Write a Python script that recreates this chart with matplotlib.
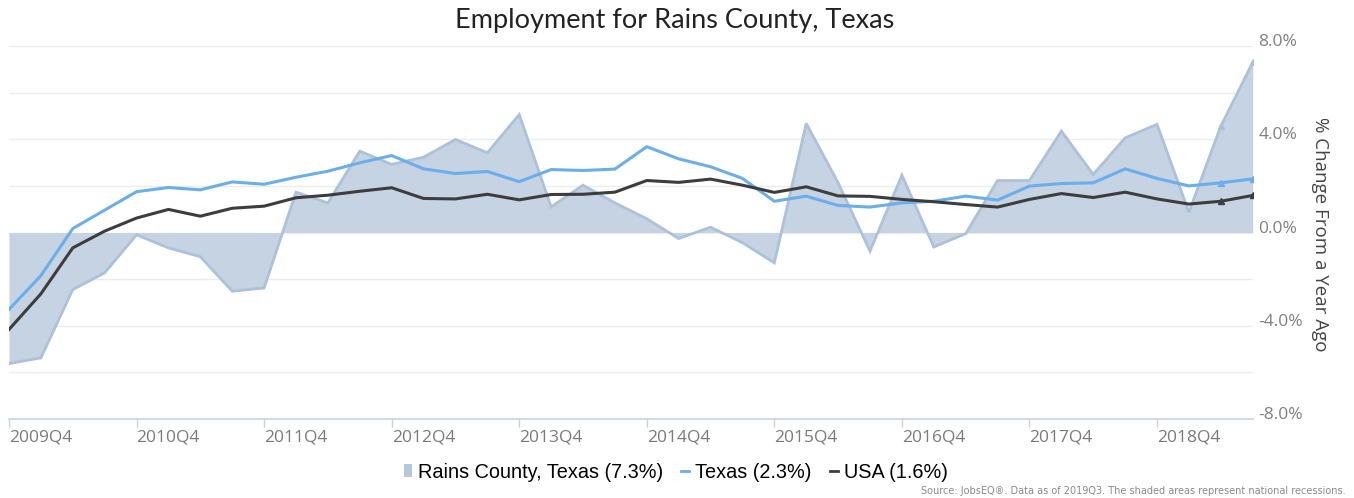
import numpy as np
import matplotlib
matplotlib.use("Agg")
import matplotlib.pyplot as plt
from matplotlib.lines import Line2D
from matplotlib.patches import Patch

quarters = ["2009Q4", "2010Q1", "2010Q2", "2010Q3", "2010Q4", "2011Q1", "2011Q2", "2011Q3",
            "2011Q4", "2012Q1", "2012Q2", "2012Q3", "2012Q4", "2013Q1", "2013Q2", "2013Q3",
            "2013Q4", "2014Q1", "2014Q2", "2014Q3", "2014Q4", "2015Q1", "2015Q2", "2015Q3",
            "2015Q4", "2016Q1", "2016Q2", "2016Q3", "2016Q4", "2017Q1", "2017Q2", "2017Q3",
            "2017Q4", "2018Q1", "2018Q2", "2018Q3", "2018Q4", "2019Q1", "2019Q2", "2019Q3"]

rains = [-5.62, -5.38, -2.45, -1.73, -0.10, -0.66, -1.04, -2.52, -2.38, 1.73,
         1.27, 3.49, 2.92, 3.23, 3.99, 3.42, 5.06, 1.10, 2.03, 1.27,
         0.59, -0.26, 0.23, -0.44, -1.30, 4.68, 2.13, -0.80, 2.46, -0.62,
         -0.05, 2.23, 2.23, 4.35, 2.49, 4.06, 4.64, 0.87, 4.56, 7.30]

texas = [-3.30, -1.85, 0.17, 0.96, 1.75, 1.93, 1.83, 2.17, 2.07, 2.37,
         2.63, 2.99, 3.30, 2.73, 2.53, 2.62, 2.18, 2.70, 2.66, 2.72,
         3.68, 3.16, 2.82, 2.32, 1.34, 1.56, 1.16, 1.09, 1.27, 1.34,
         1.56, 1.39, 1.99, 2.10, 2.13, 2.73, 2.32, 2.00, 2.13, 2.30]

usa = [-4.16, -2.63, -0.66, 0.06, 0.62, 0.99, 0.70, 1.04, 1.13, 1.49,
       1.60, 1.77, 1.92, 1.46, 1.44, 1.64, 1.40, 1.63, 1.64, 1.73,
       2.23, 2.15, 2.29, 2.03, 1.72, 1.96, 1.57, 1.55, 1.42, 1.32,
       1.20, 1.09, 1.42, 1.67, 1.50, 1.73, 1.44, 1.22, 1.34, 1.59]

legend_labels = ["Rains County, Texas (7.3%)", "Texas (2.3%)", "USA (1.6%)"]
title = "Employment for Rains County, Texas"
ylabel = "% Change From a Year Ago"
source = "Source: JobsEQ\u00ae. Data as of 2019Q3. The shaded areas represent national recessions."

W, H = 1354, 498
fig = plt.figure(figsize=(W / 100, H / 100), dpi=100)
ax = fig.add_axes([9 / W, 1 - 419 / H, (1252.7 - 9) / W, (419 - 46) / H])

x = np.arange(len(quarters))
area_fill = "#c5d3e3"
area_edge = "#adc1d9"
texas_c = "#6caeea"
usa_c = "#3d3d3d"

ax.fill_between(x, 0, rains, color=area_fill, lw=0, zorder=2)
ax.plot(x, rains, color=area_edge, lw=2, zorder=3, marker="^", ms=4,
        markevery=[38, 39], solid_joinstyle="miter")
ax.plot(x, texas, color=texas_c, lw=2.2, zorder=4, marker="^", ms=4, markevery=[38, 39])
ax.plot(x, usa, color=usa_c, lw=2.2, zorder=5, marker="^", ms=4, markevery=[38, 39])

ax.set_xlim(0, len(quarters) - 1)
ax.set_ylim(-8, 8)

# grid
yt = np.arange(-8, 9, 2)
ax.set_yticks(yt)
ax.set_yticklabels([("%.1f%%" % v) if v % 4 == 0 else "" for v in yt])
ax.yaxis.tick_right()
ax.grid(axis="y", color="#ececec", lw=1, zorder=0)
ax.tick_params(axis="y", length=0, pad=4, labelsize=12.5, labelcolor="#808080")
for lab in ax.get_yticklabels():
    lab.set_verticalalignment("baseline")
    lab.set_family("Open Sans")

xt = x[::4]
ax.set_xticks(xt)
ax.set_xticklabels([quarters[i] for i in xt])
ax.tick_params(axis="x", length=6, width=1, color="#c6d3e6", pad=1.5,
               labelsize=12.5, labelcolor="#7a7a7a")
for lab in ax.get_xticklabels():
    lab.set_horizontalalignment("left")
    lab.set_family("Open Sans")

for s in ["top", "right", "left"]:
    ax.spines[s].set_visible(False)
ax.spines["bottom"].set_color("#c6d3e6")
ax.spines["bottom"].set_linewidth(1.2)

fig.text(675 / W, 1 - 20 / H, title, ha="center", va="center", fontsize=19.5,
         family="Lato", fontweight="normal", color="#222222")
fig.text(1320 / W, 1 - 234 / H, ylabel, rotation=270, ha="center", va="center",
         fontsize=13.5, family="Open Sans", color="#444444")

handles = [Patch(facecolor="#b6c8dd", edgecolor="none"),
           Line2D([0], [0], color=texas_c, lw=2),
           Line2D([0], [0], color=usa_c, lw=2)]
leg = fig.legend(handles, legend_labels, loc="center", bbox_to_anchor=(676 / W, 1 - 472 / H),
                 ncol=3, frameon=False, handlelength=0.4, handleheight=0.6, handletextpad=0.3,
                 columnspacing=0.9, prop={"family": "Liberation Sans", "size": 14.3})

fig.text(1346 / W, 1 - 491 / H, source, ha="right", va="center", fontsize=7,
         family="DejaVu Sans", color="#8a8a8a")

fig.savefig("out.png", dpi=100)
